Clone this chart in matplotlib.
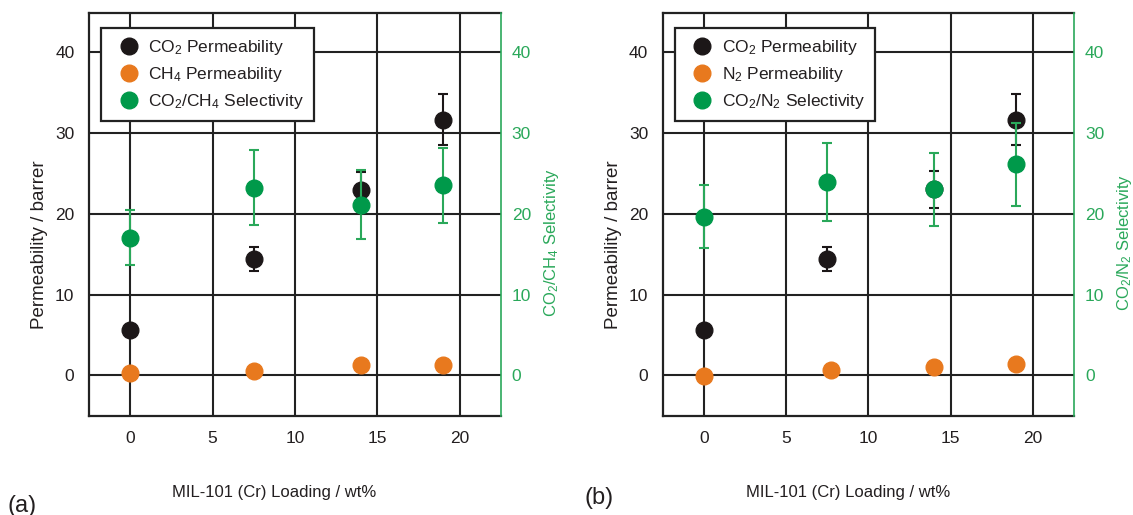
import matplotlib
matplotlib.use("Agg")
import matplotlib.pyplot as plt

plt.rcParams['font.family'] = ['Liberation Sans', 'DejaVu Sans']
plt.rcParams['mathtext.fontset'] = 'custom'
plt.rcParams['mathtext.rm'] = 'Liberation Sans'
plt.rcParams['mathtext.it'] = 'Liberation Sans'

# MIL-101 (Cr) loading, wt%
loading = [0, 7.5, 14, 19]

# panel (a): CO2 / CH4
co2_perm = [5.6, 14.4, 22.9, 31.6]
co2_err = [0.0, 1.45, 2.3, 3.15]
ch4_perm = [0.3, 0.55, 1.3, 1.3]
sel_ch4 = [17.0, 23.2, 21.1, 23.5]
sel_ch4_err = [3.4, 4.65, 4.25, 4.65]

# panel (b): CO2 / N2
loading_n2 = [0, 7.7, 14, 19]
co2_perm_b = [5.6, 14.4, 23.0, 31.6]
co2_err_b = [0.0, 1.45, 2.3, 3.15]
n2_perm = [-0.05, 0.7, 1.0, 1.4]
sel_n2 = [19.6, 23.9, 23.0, 26.1]
sel_n2_err = [3.9, 4.8, 4.55, 5.15]

BLACK = '#1c1718'
ORANGE = '#e8791e'
GREEN = '#00994a'
GREEN_AX = '#2aa85a'
TXT = '#231f20'


def panel(rect, co2, co2e, gas_x, gas_vals, gas, sel, sele):
    ax = fig.add_axes(rect)
    ax.set_xlim(-2.5, 22.5)
    ax.set_ylim(-4.95, 44.8)
    ax.set_xticks([0, 5, 10, 15, 20])
    ax.set_yticks([0, 10, 20, 30, 40])
    ax.grid(True, color='#222222', linewidth=1.5)
    ax.set_axisbelow(True)
    for s in ['left', 'top', 'bottom']:
        ax.spines[s].set_color('#222222')
        ax.spines[s].set_linewidth(1.6)
    ax.spines['right'].set_visible(False)
    ax.tick_params(length=0, labelsize=12.5, colors=TXT)
    ax.tick_params(axis='x', pad=11)
    ax.tick_params(axis='y', pad=10.5)

    h1 = ax.errorbar(loading, co2, yerr=co2e, fmt='o', color=BLACK, ms=12,
                     elinewidth=1.5, capsize=3.5, capthick=1.5, zorder=3)
    h2, = ax.plot(gas_x, gas_vals, 'o', color=ORANGE, ms=12, zorder=3)

    ax.set_xlabel('MIL-101 (Cr) Loading / wt%', fontsize=12, color=TXT)
    ax.xaxis.set_label_coords(0.45, -0.172)
    ax.set_ylabel('Permeability / barrer', fontsize=13.5, color=TXT)
    ax.yaxis.set_label_coords(-0.1, 0.424)

    ax2 = ax.twinx()
    ax2.set_ylim(-4.95, 44.8)
    ax2.set_yticks([0, 10, 20, 30, 40])
    for s in ['left', 'top', 'bottom']:
        ax2.spines[s].set_visible(False)
    ax2.spines['right'].set_color(GREEN_AX)
    ax2.spines['right'].set_linewidth(1.2)
    ax2.tick_params(length=0, labelsize=12.5, colors=GREEN_AX, pad=8)
    h3 = ax2.errorbar(loading, sel, yerr=sele, fmt='o', color=GREEN, ecolor=GREEN_AX,
                      ms=12, elinewidth=1.5, capsize=3.5, capthick=1.5, zorder=3)
    ax2.set_ylabel('CO$_2$/' + gas + ' Selectivity', fontsize=12, color=GREEN_AX)
    ax2.yaxis.set_label_coords(1.1, 0.43)

    leg = ax2.legend([h1[0], h2, h3[0]],
                     ['CO$_2$ Permeability', gas + ' Permeability',
                      'CO$_2$/' + gas + ' Selectivity'],
                     loc='upper left', bbox_to_anchor=(0.029, 0.963), fontsize=12.5,
                     frameon=True, fancybox=False, framealpha=1, edgecolor='#222222',
                     handletextpad=0.1, borderpad=0.6, labelspacing=0.45,
                     handlelength=2.0, borderaxespad=0)
    leg.get_frame().set_linewidth(1.6)
    for t in leg.get_texts():
        t.set_color(TXT)
    return ax


fig = plt.figure(figsize=(11.33, 5.15), dpi=100)

panel([89 / 1133, 1 - 415.5 / 515, (500.7 - 89) / 1133, 402.5 / 515],
      co2_perm, co2_err, loading, ch4_perm, 'CH$_4$', sel_ch4, sel_ch4_err)
panel([662.7 / 1133, 1 - 415.5 / 515, (1074 - 662.7) / 1133, 402.5 / 515],
      co2_perm_b, co2_err_b, loading_n2, n2_perm, 'N$_2$', sel_n2, sel_n2_err)

fig.text(0.007, -0.004, '(a)', fontsize=17, color=TXT, ha='left', va='bottom')
fig.text(0.516, 0.012, '(b)', fontsize=17, color=TXT, ha='left', va='bottom')

fig.savefig('out.png', dpi=100)
